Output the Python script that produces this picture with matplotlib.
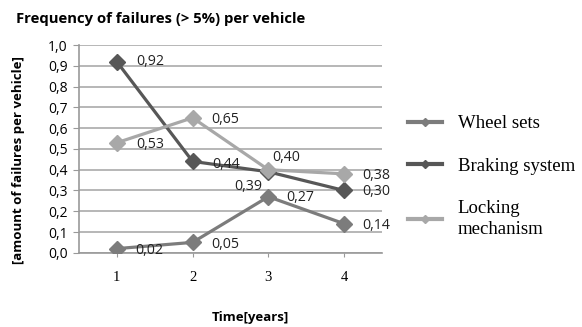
import numpy as np
import matplotlib.pyplot as plt
from matplotlib.lines import Line2D

years = [1, 2, 3, 4]
wheel_sets = [0.02, 0.05, 0.27, 0.14]
braking = [0.92, 0.44, 0.39, 0.30]
locking = [0.53, 0.65, 0.40, 0.38]
series_names = ["Wheel sets", "Braking system", "Locking\nmechanism"]
y_ticks = [0.0, 0.1, 0.2, 0.3, 0.4, 0.5, 0.6, 0.7, 0.8, 0.9, 1.0]

colors = ["#7c7c7c", "#575757", "#a8a8a8"]
sans = "Open Sans"
serif = "Liberation Serif"

def comma(v):
    return ("%.2f" % v).replace(".", ",")

fig = plt.figure(figsize=(5.82, 3.27), dpi=100)
ax = fig.add_axes([0.1357, 0.227, 0.5206, 0.635])

for vals, c in zip([wheel_sets, braking, locking], colors):
    ax.plot(years, vals, color=c, lw=2.3, marker="D", ms=8, mec=c, mfc=c, zorder=3)

# data labels (pixel offsets from each point)
offsets = {
    "w": [(18, -2), (19, -2), (18, -1), (18, -2)],
    "b": [(19, 0), (20, -3), (-34, -15), (18, -1)],
    "l": [(19, -2), (19, -2), (4, 12), (18, -2)],
}
for key, vals in zip(["w", "b", "l"], [wheel_sets, braking, locking]):
    for x, v, (dx, dy) in zip(years, vals, offsets[key]):
        ax.annotate(comma(v), (x, v), xytext=(dx, dy), textcoords="offset pixels",
                    ha="left", va="center", fontsize=10.2, family=sans, color="#222222", zorder=4)

ax.set_xlim(0.5, 4.5)
ax.set_ylim(0, 1.0)
ax.set_yticks(y_ticks)
ax.set_yticklabels([("%.1f" % t).replace(".", ",") for t in y_ticks], family=sans, fontsize=10)
ax.set_xticks(years)
ax.set_xticklabels([str(y) for y in years], family=serif, fontsize=10.5)
ax.tick_params(axis="x", length=3, color="#999999", pad=10)
ax.tick_params(axis="y", length=4, color="#999999", pad=4)
ax.yaxis.grid(True, color="#aaaaaa", lw=1.2)
ax.set_axisbelow(True)
for s in ["top", "right"]:
    ax.spines[s].set_visible(False)
for s in ["left", "bottom"]:
    ax.spines[s].set_color("#999999")
    ax.spines[s].set_linewidth(1.2)

fig.text(0.027, 0.943, "Frequency of failures (> 5%) per vehicle", fontsize=10.7,
         fontweight="bold", family=sans, ha="left", va="center")
fig.text(0.032, 0.51, "[amount of failures per vehicle]", rotation=90, fontsize=9.5,
         fontweight="bold", family=sans, ha="center", va="center")
fig.text(0.43, 0.028, "Time[years]", fontsize=9.5, fontweight="bold", family=sans,
         ha="center", va="center")

handles = [Line2D([], [], color=c, lw=3, marker="D", ms=4, mec=c, mfc=c) for c in colors]
leg = fig.legend(handles, series_names, loc="center left", bbox_to_anchor=(0.672, 0.46),
                 frameon=False, prop={"family": serif, "size": 13.5}, handlelength=1.8,
                 handletextpad=0.85, labelspacing=1.35)
leg.get_texts()[2].set_linespacing(1.3)

fig.savefig("out.png", dpi=100)
